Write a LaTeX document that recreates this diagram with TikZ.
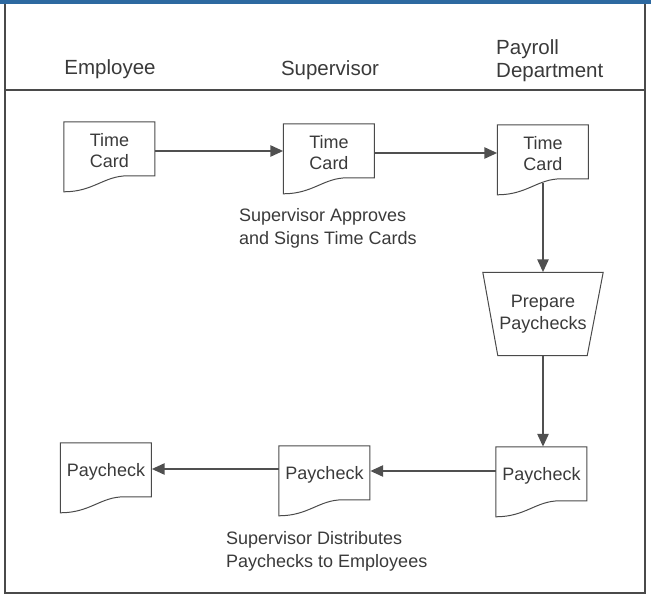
\documentclass[tikz,border=0pt]{standalone}
\usepackage{fontspec}
\setmainfont{Liberation Sans}
\usetikzlibrary{arrows.meta,calc}
\definecolor{txt}{HTML}{3A3A3A}
\definecolor{ln}{HTML}{4A4A4A}
\definecolor{ar}{HTML}{505050}
\definecolor{band}{RGB}{45,105,160}
\newcommand\docshape[1]{%
  \begin{scope}[shift={(#1.north west)}]
    \draw[docline] (0,0) -- (91,0) -- (91,54) -- (64,54)
      .. controls (40,54) and (30,70) .. (0,70) -- cycle;
  \end{scope}}
\begin{document}
\begin{tikzpicture}[x=1pt,y=-1pt,
  doc/.style={minimum width=91pt, minimum height=58pt, inner sep=0pt, align=center,
    font=\fontsize{18}{21}\selectfont, text=txt},
  docline/.style={draw=ln, line width=1pt},
  arr/.style={draw=ar, line width=2.6pt, -{Triangle[length=13pt,width=11pt]}},
  hdr/.style={font=\fontsize{20.5}{23}\selectfont, text=txt, inner sep=0pt, align=left},
  captxt/.style={font=\fontsize{18}{23}\selectfont, text=txt, inner sep=0pt, align=left}]
\useasboundingbox (0,0) rectangle (651,607);
% frame
\fill[band] (0,0) rectangle (651,4);
\draw[ln, line width=1.4pt] (5,4) -- (5,593) -- (645,593) -- (645,4);
\draw[ln, line width=1.6pt] (5,90) -- (645,90);
% headers
\node[hdr, anchor=base] (hemp) at (110,75) {Employee};
\node[hdr, anchor=base] (hsup) at (330,76) {Supervisor};
\node[hdr, anchor=west] (hpay) at (496,61) {Payroll\\Department};
% top row
\node[doc] (tc1) at (109.5,151) {Time\\Card};
\node[doc] (tc2) at (329,153) {Time\\Card};
\node[doc] (tc3) at (543,154) {Time\\Card};
\docshape{tc1}\docshape{tc2}\docshape{tc3}
\node[captxt, anchor=west] (cap1) at (239,228) {Supervisor Approves\\and Signs Time Cards};
% prepare
\node[minimum width=120pt, minimum height=83pt, inner sep=0pt, align=center,
  font=\fontsize{18}{22}\selectfont, text=txt] (prep) at (543,314) {Prepare\\Paychecks};
\draw[docline] (prep.north west) -- (prep.north east) -- ([xshift=-16pt]prep.south east)
  -- ([xshift=15pt]prep.south west) -- cycle;
% bottom row
\node[doc] (p3) at (541.5,476) {Paycheck};
\node[doc] (p2) at (324.5,475) {Paycheck};
\node[doc] (p1) at (106,472) {Paycheck};
\docshape{p1}\docshape{p2}\docshape{p3}
\node[captxt, anchor=west] (cap2) at (226,551) {Supervisor Distributes\\Paychecks to Employees};
% connectors
\draw[arr] (tc1.east) -- (tc1.east -| tc2.west);
\draw[arr] (tc2.east) -- (tc2.east -| tc3.west);
\draw[arr] (tc3.south) -- (prep.north);
\draw[arr] (prep.south) -- (prep.south |- p3.north);
\draw[arr] ([yshift=5pt]p3.west) -- ([yshift=5pt]p3.west -| p2.east);
\draw[arr] ([yshift=6pt]p2.west) -- ([yshift=6pt]p2.west -| p1.east);
\end{tikzpicture}
\end{document}
